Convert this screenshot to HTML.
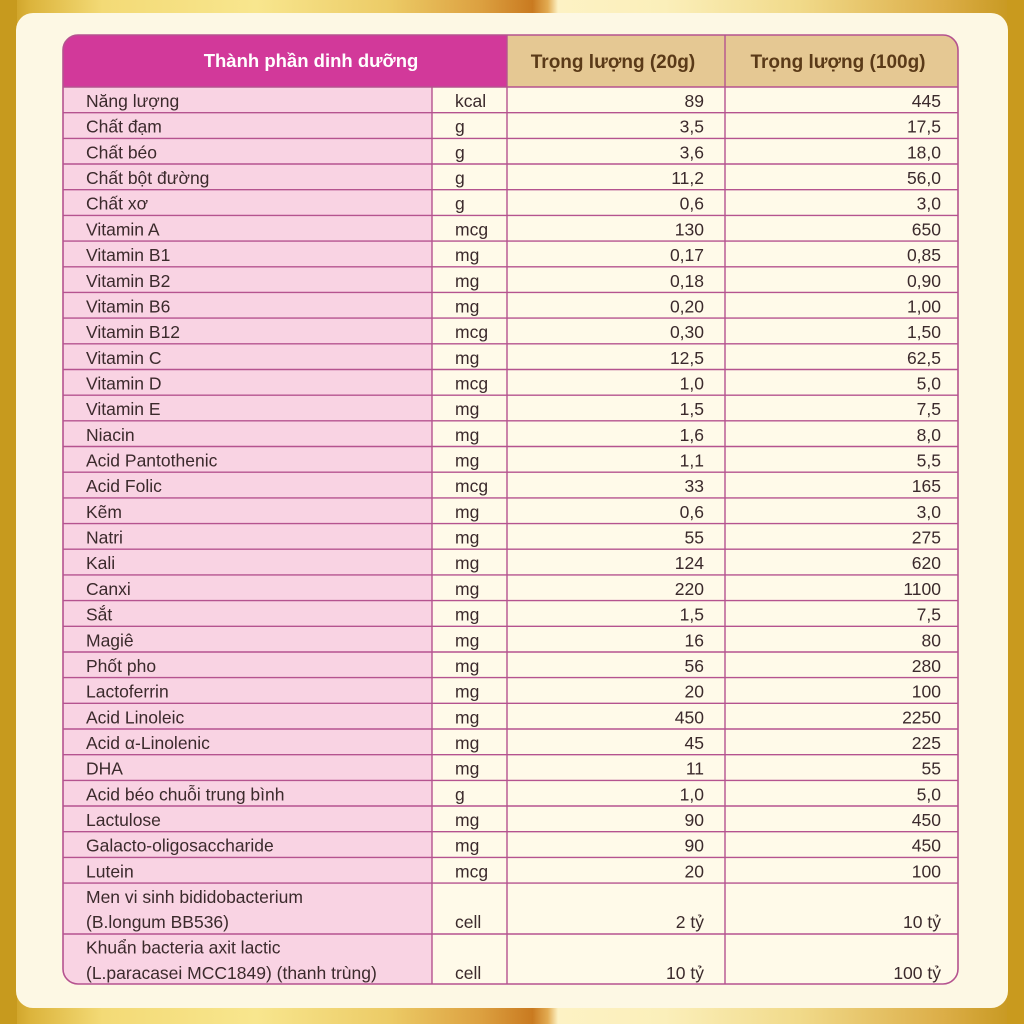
<!DOCTYPE html>
<html><head><meta charset="utf-8"><style>
html,body{margin:0;padding:0;width:1024px;height:1024px;overflow:hidden;background:#c9981e}
svg{display:block}
text{font-family:"Liberation Sans",Arial,sans-serif}
.l{font-size:17.5px;fill:#3b2a2c}
.u{font-size:17.5px;fill:#3b2a2c}
.v{font-size:17.5px;fill:#3b2a2c;text-anchor:end}
</style></head><body>
<svg width="1024" height="1024" viewBox="0 0 1024 1024" xmlns="http://www.w3.org/2000/svg">
<defs>
<linearGradient id="gold" x1="0" y1="0" x2="1" y2="0">
<stop offset="0" stop-color="#c4951a"/>
<stop offset="0.03" stop-color="#dcb43c"/>
<stop offset="0.10" stop-color="#f3da76"/>
<stop offset="0.25" stop-color="#f8e68e"/>
<stop offset="0.38" stop-color="#eccb66"/>
<stop offset="0.47" stop-color="#dca040"/>
<stop offset="0.52" stop-color="#c97a20"/>
<stop offset="0.535" stop-color="#e2ab52"/>
<stop offset="0.545" stop-color="#fdf2c4"/>
<stop offset="0.65" stop-color="#fbefba"/>
<stop offset="0.78" stop-color="#f1da8a"/>
<stop offset="0.92" stop-color="#dcae48"/>
<stop offset="1" stop-color="#c4951a"/>
</linearGradient>
<clipPath id="tc"><rect x="63" y="35" width="895" height="949" rx="15" ry="15"/></clipPath>
</defs>
<rect x="0" y="0" width="1024" height="1024" fill="url(#gold)"/>
<rect x="0" y="0" width="17" height="1024" fill="#c79a1e"/>
<rect x="1007" y="0" width="17" height="1024" fill="#c99a1e"/>
<rect x="16" y="13" width="992" height="995" rx="17" ry="17" fill="#fdf8e4"/>

<g clip-path="url(#tc)">
<rect x="63" y="35" width="895" height="949" fill="#fffae9"/>
<rect x="63" y="87" width="369" height="897" fill="#f9d3e3"/>
<rect x="63" y="35" width="444" height="52" fill="#d2399a"/>
<rect x="507" y="35" width="451" height="52" fill="#e5c893"/>
</g>

<g stroke="#b5538f" stroke-width="1.4" fill="none">
<line x1="63" y1="87" x2="958" y2="87"/>
<line x1="63" y1="112.7" x2="958" y2="112.7"/>
<line x1="63" y1="138.4" x2="958" y2="138.4"/>
<line x1="63" y1="164.0" x2="958" y2="164.0"/>
<line x1="63" y1="189.7" x2="958" y2="189.7"/>
<line x1="63" y1="215.4" x2="958" y2="215.4"/>
<line x1="63" y1="241.1" x2="958" y2="241.1"/>
<line x1="63" y1="266.8" x2="958" y2="266.8"/>
<line x1="63" y1="292.4" x2="958" y2="292.4"/>
<line x1="63" y1="318.1" x2="958" y2="318.1"/>
<line x1="63" y1="343.8" x2="958" y2="343.8"/>
<line x1="63" y1="369.5" x2="958" y2="369.5"/>
<line x1="63" y1="395.2" x2="958" y2="395.2"/>
<line x1="63" y1="420.8" x2="958" y2="420.8"/>
<line x1="63" y1="446.5" x2="958" y2="446.5"/>
<line x1="63" y1="472.2" x2="958" y2="472.2"/>
<line x1="63" y1="497.9" x2="958" y2="497.9"/>
<line x1="63" y1="523.6" x2="958" y2="523.6"/>
<line x1="63" y1="549.2" x2="958" y2="549.2"/>
<line x1="63" y1="574.9" x2="958" y2="574.9"/>
<line x1="63" y1="600.6" x2="958" y2="600.6"/>
<line x1="63" y1="626.3" x2="958" y2="626.3"/>
<line x1="63" y1="652.0" x2="958" y2="652.0"/>
<line x1="63" y1="677.6" x2="958" y2="677.6"/>
<line x1="63" y1="703.3" x2="958" y2="703.3"/>
<line x1="63" y1="729.0" x2="958" y2="729.0"/>
<line x1="63" y1="754.7" x2="958" y2="754.7"/>
<line x1="63" y1="780.4" x2="958" y2="780.4"/>
<line x1="63" y1="806.0" x2="958" y2="806.0"/>
<line x1="63" y1="831.7" x2="958" y2="831.7"/>
<line x1="63" y1="857.4" x2="958" y2="857.4"/>
<line x1="63" y1="883.1" x2="958" y2="883.1"/>
<line x1="63" y1="934" x2="958" y2="934"/>
<line x1="432" y1="87" x2="432" y2="984"/>
<line x1="507" y1="35" x2="507" y2="984"/>
<line x1="725" y1="35" x2="725" y2="984"/>
<rect x="63" y="35" width="895" height="949" rx="15" ry="15" stroke-width="1.6"/>
</g>

<text x="311" y="67" text-anchor="middle" style="font-size:18.5px;font-weight:bold;fill:#ffffff">Thành phần dinh dưỡng</text>
<text x="613" y="68" text-anchor="middle" style="font-size:19px;font-weight:bold;fill:#5a3a18">Trọng lượng (20g)</text>
<text x="838" y="68" text-anchor="middle" style="font-size:19px;font-weight:bold;fill:#5a3a18">Trọng lượng (100g)</text>

<g>
<text class="l" x="86" y="107">Năng lượng</text><text class="u" x="455" y="107">kcal</text><text class="v" x="704" y="107">89</text><text class="v" x="941" y="107">445</text>
<text class="l" x="86" y="132.7">Chất đạm</text><text class="u" x="455" y="132.7">g</text><text class="v" x="704" y="132.7">3,5</text><text class="v" x="941" y="132.7">17,5</text>
<text class="l" x="86" y="158.4">Chất béo</text><text class="u" x="455" y="158.4">g</text><text class="v" x="704" y="158.4">3,6</text><text class="v" x="941" y="158.4">18,0</text>
<text class="l" x="86" y="184.0">Chất bột đường</text><text class="u" x="455" y="184.0">g</text><text class="v" x="704" y="184.0">11,2</text><text class="v" x="941" y="184.0">56,0</text>
<text class="l" x="86" y="209.7">Chất xơ</text><text class="u" x="455" y="209.7">g</text><text class="v" x="704" y="209.7">0,6</text><text class="v" x="941" y="209.7">3,0</text>
<text class="l" x="86" y="235.4">Vitamin A</text><text class="u" x="455" y="235.4">mcg</text><text class="v" x="704" y="235.4">130</text><text class="v" x="941" y="235.4">650</text>
<text class="l" x="86" y="261.1">Vitamin B1</text><text class="u" x="455" y="261.1">mg</text><text class="v" x="704" y="261.1">0,17</text><text class="v" x="941" y="261.1">0,85</text>
<text class="l" x="86" y="286.8">Vitamin B2</text><text class="u" x="455" y="286.8">mg</text><text class="v" x="704" y="286.8">0,18</text><text class="v" x="941" y="286.8">0,90</text>
<text class="l" x="86" y="312.4">Vitamin B6</text><text class="u" x="455" y="312.4">mg</text><text class="v" x="704" y="312.4">0,20</text><text class="v" x="941" y="312.4">1,00</text>
<text class="l" x="86" y="338.1">Vitamin B12</text><text class="u" x="455" y="338.1">mcg</text><text class="v" x="704" y="338.1">0,30</text><text class="v" x="941" y="338.1">1,50</text>
<text class="l" x="86" y="363.8">Vitamin C</text><text class="u" x="455" y="363.8">mg</text><text class="v" x="704" y="363.8">12,5</text><text class="v" x="941" y="363.8">62,5</text>
<text class="l" x="86" y="389.5">Vitamin D</text><text class="u" x="455" y="389.5">mcg</text><text class="v" x="704" y="389.5">1,0</text><text class="v" x="941" y="389.5">5,0</text>
<text class="l" x="86" y="415.2">Vitamin E</text><text class="u" x="455" y="415.2">mg</text><text class="v" x="704" y="415.2">1,5</text><text class="v" x="941" y="415.2">7,5</text>
<text class="l" x="86" y="440.8">Niacin</text><text class="u" x="455" y="440.8">mg</text><text class="v" x="704" y="440.8">1,6</text><text class="v" x="941" y="440.8">8,0</text>
<text class="l" x="86" y="466.5">Acid Pantothenic</text><text class="u" x="455" y="466.5">mg</text><text class="v" x="704" y="466.5">1,1</text><text class="v" x="941" y="466.5">5,5</text>
<text class="l" x="86" y="492.2">Acid Folic</text><text class="u" x="455" y="492.2">mcg</text><text class="v" x="704" y="492.2">33</text><text class="v" x="941" y="492.2">165</text>
<text class="l" x="86" y="517.9">Kẽm</text><text class="u" x="455" y="517.9">mg</text><text class="v" x="704" y="517.9">0,6</text><text class="v" x="941" y="517.9">3,0</text>
<text class="l" x="86" y="543.6">Natri</text><text class="u" x="455" y="543.6">mg</text><text class="v" x="704" y="543.6">55</text><text class="v" x="941" y="543.6">275</text>
<text class="l" x="86" y="569.2">Kali</text><text class="u" x="455" y="569.2">mg</text><text class="v" x="704" y="569.2">124</text><text class="v" x="941" y="569.2">620</text>
<text class="l" x="86" y="594.9">Canxi</text><text class="u" x="455" y="594.9">mg</text><text class="v" x="704" y="594.9">220</text><text class="v" x="941" y="594.9">1100</text>
<text class="l" x="86" y="620.6">Sắt</text><text class="u" x="455" y="620.6">mg</text><text class="v" x="704" y="620.6">1,5</text><text class="v" x="941" y="620.6">7,5</text>
<text class="l" x="86" y="646.3">Magiê</text><text class="u" x="455" y="646.3">mg</text><text class="v" x="704" y="646.3">16</text><text class="v" x="941" y="646.3">80</text>
<text class="l" x="86" y="672.0">Phốt pho</text><text class="u" x="455" y="672.0">mg</text><text class="v" x="704" y="672.0">56</text><text class="v" x="941" y="672.0">280</text>
<text class="l" x="86" y="697.6">Lactoferrin</text><text class="u" x="455" y="697.6">mg</text><text class="v" x="704" y="697.6">20</text><text class="v" x="941" y="697.6">100</text>
<text class="l" x="86" y="723.3">Acid Linoleic</text><text class="u" x="455" y="723.3">mg</text><text class="v" x="704" y="723.3">450</text><text class="v" x="941" y="723.3">2250</text>
<text class="l" x="86" y="749.0">Acid α-Linolenic</text><text class="u" x="455" y="749.0">mg</text><text class="v" x="704" y="749.0">45</text><text class="v" x="941" y="749.0">225</text>
<text class="l" x="86" y="774.7">DHA</text><text class="u" x="455" y="774.7">mg</text><text class="v" x="704" y="774.7">11</text><text class="v" x="941" y="774.7">55</text>
<text class="l" x="86" y="800.4">Acid béo chuỗi trung bình</text><text class="u" x="455" y="800.4">g</text><text class="v" x="704" y="800.4">1,0</text><text class="v" x="941" y="800.4">5,0</text>
<text class="l" x="86" y="826.0">Lactulose</text><text class="u" x="455" y="826.0">mg</text><text class="v" x="704" y="826.0">90</text><text class="v" x="941" y="826.0">450</text>
<text class="l" x="86" y="851.7">Galacto-oligosaccharide</text><text class="u" x="455" y="851.7">mg</text><text class="v" x="704" y="851.7">90</text><text class="v" x="941" y="851.7">450</text>
<text class="l" x="86" y="877.4">Lutein</text><text class="u" x="455" y="877.4">mcg</text><text class="v" x="704" y="877.4">20</text><text class="v" x="941" y="877.4">100</text>
<text class="l" x="86" y="903">Men vi sinh bididobacterium</text>
<text class="l" x="86" y="928">(B.longum BB536)</text><text class="u" x="455" y="928">cell</text><text class="v" x="704" y="928">2 tỷ</text><text class="v" x="941" y="928">10 tỷ</text>
<text class="l" x="86" y="953.5">Khuẩn bacteria axit lactic</text>
<text class="l" x="86" y="979">(L.paracasei MCC1849) (thanh trùng)</text><text class="u" x="455" y="979">cell</text><text class="v" x="704" y="979">10 tỷ</text><text class="v" x="941" y="979">100 tỷ</text>
</g>
</svg>
</body></html>
